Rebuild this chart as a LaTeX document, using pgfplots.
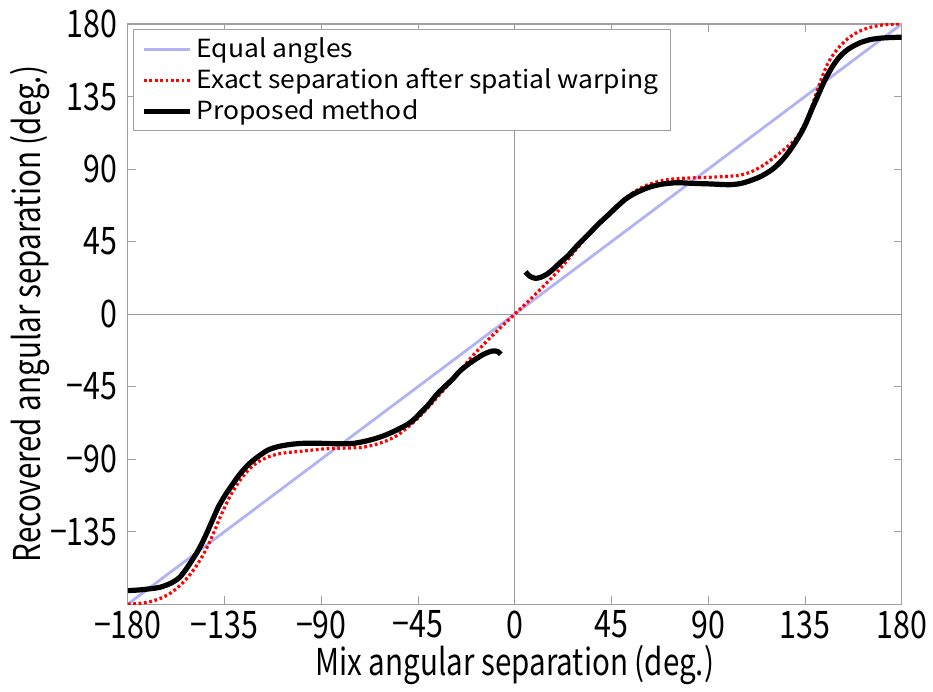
\documentclass[border=0pt]{standalone}
\usepackage{fontspec}
\usepackage{pgfplots}
\pgfplotsset{compat=1.18}
\setmainfont{Noto Sans CJK JP}
\newfontfamily\condfont[FakeStretch=0.8]{Noto Sans CJK JP}
\newfontfamily\legfont[FakeStretch=1.06]{Noto Sans CJK JP}

\definecolor{equalblue}{RGB}{178,178,248}
\definecolor{framegray}{RGB}{160,160,160}

\begin{document}
\begin{tikzpicture}
\begin{axis}[
  scale only axis,
  width=387.5pt, height=290.5pt,
  xmin=-180, xmax=180, ymin=-180, ymax=180,
  xtick={-180,-135,-90,-45,0,45,90,135,180},
  xticklabels={−180,−135,−90,−45,0,45,90,135,180},
  ytick={-135,-90,-45,0,45,90,135,180},
  yticklabels={−135,−90,−45,0,45,90,135,180},
  extra x ticks={0}, extra x tick labels={},
  extra y ticks={0}, extra y tick labels={},
  extra tick style={grid=major, major grid style={gray!80, line width=0.5pt}, major tick length=0pt},
  tick align=inside,
  major tick length=4pt,
  tick style={framegray, line width=0.5pt},
  axis line style={framegray, line width=0.6pt},
  ticklabel style={font=\condfont\fontsize{19}{19}\selectfont, text=black},
  xticklabel style={inner sep=3pt},
  yticklabel style={inner sep=5pt},
  xlabel={Mix angular separation (deg.)},
  ylabel={Recovered angular separation (deg.)},
  label style={font=\condfont\fontsize{18.5}{18.5}\selectfont},
  xlabel style={at={(axis description cs:0.5,-0.105)}, anchor=center},
  ylabel style={at={(axis description cs:-0.127,0.5)}, anchor=center, rotate=0},
  legend image code/.code={\draw[#1] (0pt,0pt) -- (23pt,0pt);},
  legend style={
    at={(axis description cs:0.0065,0.991)}, anchor=north west,
    draw=framegray, line width=0.5pt, fill=white,
    font=\legfont\fontsize{12.5}{14.5}\selectfont,
    inner xsep=4pt, inner ysep=2pt,
    row sep=0pt,
  },
  legend cell align=left,
]
% identity reference line
\addplot[equalblue, line width=1.4pt] coordinates {(-180,-180) (180,180)};
\addlegendentry{Equal angles}

% exact separation after spatial warping
\addplot[red, line width=1.6pt, dash pattern=on 1.4pt off 1.3pt, smooth, tension=0.5] coordinates {
(-180,-180) (-175,-179.6) (-170,-178.6) (-165,-176.5) (-160,-173) (-155,-167.5)
(-151,-161.5) (-148,-156) (-145,-149.5) (-142.5,-143) (-140,-135.5) (-137.5,-127.5)
(-135,-120) (-132,-112) (-128,-103.5) (-124,-97) (-120,-92.3) (-115,-88.8)
(-110,-86.8) (-105,-85.8) (-100,-85.2) (-95,-84.5) (-90,-83.8) (-85,-83.4)
(-80,-83.2) (-75,-83) (-70,-82.5) (-65,-81) (-60,-78.8) (-55,-75.5) (-50,-70.5)
(-45,-64.5) (-40,-57.5) (-35,-50) (-30,-42.5) (-25,-34.5) (-20,-26.5) (-15,-19.5)
(-10,-12.8) (-5,-6.3) (0,0) (5,6.3) (10,12.8) (15,19.5) (20,26.5) (25,34.3)
(30,42.5) (35,50.3) (40,57.5) (45,64) (50,70.3) (55,75.3) (60,79.2) (65,81.6)
(70,83.2) (75,84) (80,84.4) (85,84.6) (90,84.9) (95,85.2) (100,85.5) (105,86.3)
(110,88.3) (115,91.8) (120,96.5) (125,101.8) (130,107.8) (133,113.5) (136,121.5)
(138.5,130) (141,140) (143.5,149) (146,156.5) (150,164.3) (155,171) (160,175.3)
(165,177.8) (170,179.2) (175,179.8) (180,180)};
\addlegendentry{Exact separation after spatial warping}

% proposed method, negative branch
\addplot[black, line width=2.6pt, smooth, tension=0.5, forget plot] coordinates {
(-180,-171.6) (-175,-171.2) (-170,-170.5) (-165,-169.5) (-160,-167) (-156,-163.5)
(-153,-158.5) (-150,-152.5) (-147,-146) (-144,-138) (-141,-129) (-138,-120)
(-135,-113) (-132,-107) (-128,-99.5) (-124,-93.5) (-120,-89) (-115,-84.5)
(-110,-82.2) (-105,-81) (-100,-80.3) (-95,-80.1) (-90,-80.2) (-85,-80.4)
(-80,-80.5) (-75,-80.2) (-70,-79) (-65,-77.3) (-60,-75) (-55,-72) (-50,-68.5)
(-47,-65.5) (-44,-61.5) (-40,-56) (-36.5,-50.2) (-33,-45.5) (-29,-40.5)
(-25.8,-35.7) (-22,-31.5) (-18,-27.8) (-15,-25.3) (-12,-23.5) (-10,-22.9)
(-8,-23.2) (-6.5,-25)};
% proposed method, positive branch
\addplot[black, line width=2.6pt, smooth, tension=0.5] coordinates {
(5,26.2) (7,23.5) (9.5,22.2) (12,22.8) (15,24.8) (18,28) (21,31.8) (25,36.5)
(28,41) (31.5,45.8) (35,50.5) (39,56) (42.5,60.3) (47,66) (51.5,71.3) (56,75)
(62,78.5) (68,80.5) (75,81.5) (80,81.3) (85,81) (90,80.8) (95,80.5) (100,80.3)
(105,81) (110,83) (115,85.8) (120,90) (124,95) (127,99.8) (130,105.5) (133,112)
(135.5,118.5) (138,126.5) (141,135.5) (144,144.5) (147.5,153) (151,159.5)
(155,164.3) (160,168) (165,170.2) (170,171.2) (175,171.6) (180,171.8)};
\addlegendentry{Proposed method}
\end{axis}
% page extent around the axis box
\path (current axis.south west) ++(-64pt,-39pt) (current axis.north east) ++(15pt,11pt);
\end{tikzpicture}
\end{document}
